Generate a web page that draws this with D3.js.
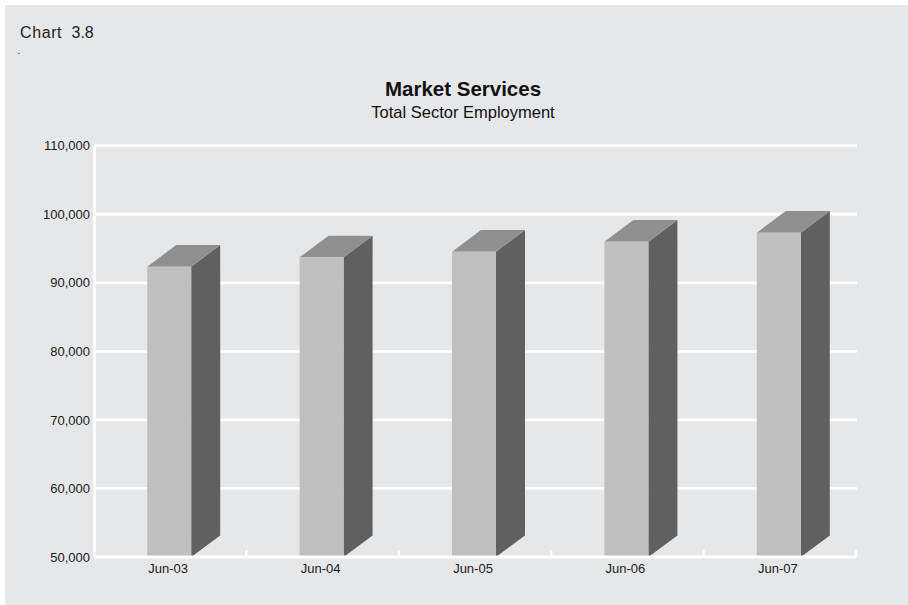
<!DOCTYPE html>
<html>
<head>
<meta charset="utf-8">
<script src="https://cdn.jsdelivr.net/npm/d3@7"></script>
<style>
  html, body { margin: 0; padding: 0; background: #ffffff; }
  svg { display: block; font-family: "Liberation Sans", Arial, Helvetica, sans-serif; }
</style>
</head>
<body>
<svg id="chart" width="908" height="605"></svg>
<script>
// Total sector employment, market services
const categories = ["Jun-03", "Jun-04", "Jun-05", "Jun-06", "Jun-07"];
const employment = [92350, 93720, 94540, 96000, 97310];
const yTicks = [50000, 60000, 70000, 80000, 90000, 100000, 110000];

const svg = d3.select("#chart");
const W = 908, H = 605;

// panel background
svg.append("rect").attr("x", 5).attr("y", 5).attr("width", W - 5).attr("height", H - 5)
  .attr("fill", "#e6e7e9");

const plot = { left: 94, right: 856, top: 145.7, bottom: 557 };

const x = d3.scaleBand().domain(categories).range([plot.left, plot.right]).padding(0);
const y = d3.scaleLinear().domain([50000, 110000]).range([plot.bottom, plot.top]);

// horizontal gridlines
svg.append("g").selectAll("line").data(yTicks.slice(1)).join("line")
  .attr("x1", plot.left).attr("x2", plot.right + 1)
  .attr("y1", d => y(d)).attr("y2", d => y(d))
  .attr("stroke", "#ffffff").attr("stroke-width", 2.8);

// y axis
const yAxis = d3.axisLeft(y).tickValues(yTicks).tickSize(0).tickPadding(4)
  .tickFormat(d3.format(","));
const gy = svg.append("g").attr("transform", `translate(${plot.left},0)`).call(yAxis);
gy.select(".domain").attr("stroke", "#ffffff").attr("stroke-width", 2.8);
gy.selectAll("text").attr("font-size", 13).attr("fill", "#1a1a1a")
  .attr("font-family", "'Liberation Sans', Arial, sans-serif");

// 3D bars
const barW = 44, depthX = 29, depthY = 21.6;
const bars = svg.append("g").selectAll("g").data(categories.map((c, i) => ({ c, v: employment[i] }))).join("g");
const x0 = d => x(d.c) + x.bandwidth() / 2 - barW / 2 - 1;
const x1 = d => x0(d) + barW;
const y0 = y(50000);

bars.append("path") // side
  .attr("d", d => `M${x1(d)},${y(d.v)} L${x1(d) + depthX},${y(d.v) - depthY} L${x1(d) + depthX},${y0 - depthY} L${x1(d)},${y0} Z`)
  .attr("fill", "#606060");
bars.append("path") // top
  .attr("d", d => `M${x0(d)},${y(d.v)} L${x0(d) + depthX},${y(d.v) - depthY} L${x1(d) + depthX},${y(d.v) - depthY} L${x1(d)},${y(d.v)} Z`)
  .attr("fill", "#8f8f8f");
bars.append("rect") // front
  .attr("x", x0).attr("y", d => y(d.v)).attr("width", barW).attr("height", d => y0 - y(d.v))
  .attr("fill", "#bfbfbf");

// x axis with boundary ticks pointing up
const gx = svg.append("g");
gx.append("line").attr("x1", plot.left).attr("x2", plot.right)
  .attr("y1", plot.bottom).attr("y2", plot.bottom)
  .attr("stroke", "#ffffff").attr("stroke-width", 2.8);
const bounds = categories.map(c => x(c)).slice(1).concat([plot.right]);
gx.selectAll("line.tick").data(bounds).join("line").attr("class", "tick")
  .attr("x1", d => d).attr("x2", d => d)
  .attr("y1", plot.bottom).attr("y2", plot.bottom - 7)
  .attr("stroke", "#ffffff").attr("stroke-width", 2.4);
gx.selectAll("text").data(categories).join("text")
  .attr("x", d => x(d) + x.bandwidth() / 2 - 2).attr("y", 573)
  .attr("text-anchor", "middle").attr("font-size", 13).attr("fill", "#1a1a1a")
  .text(d => d);

// titles
svg.append("text").attr("x", 463).attr("y", 96).attr("text-anchor", "middle")
  .attr("font-size", 20.5).attr("font-weight", "bold").attr("fill", "#111")
  .text("Market Services");
svg.append("text").attr("x", 463).attr("y", 117.5).attr("text-anchor", "middle")
  .attr("font-size", 16.5).attr("fill", "#111")
  .text("Total Sector Employment");

// chart number
const lab = svg.append("text").attr("y", 37.7).attr("font-size", 16).attr("fill", "#222");
lab.append("tspan").attr("x", 20).attr("letter-spacing", 0.6).text("Chart");
lab.append("tspan").attr("x", 71.5).text("3.8");
svg.append("text").attr("x", 17.5).attr("y", 54).attr("font-size", 10).attr("fill", "#222").text(".");
</script>
</body>
</html>
